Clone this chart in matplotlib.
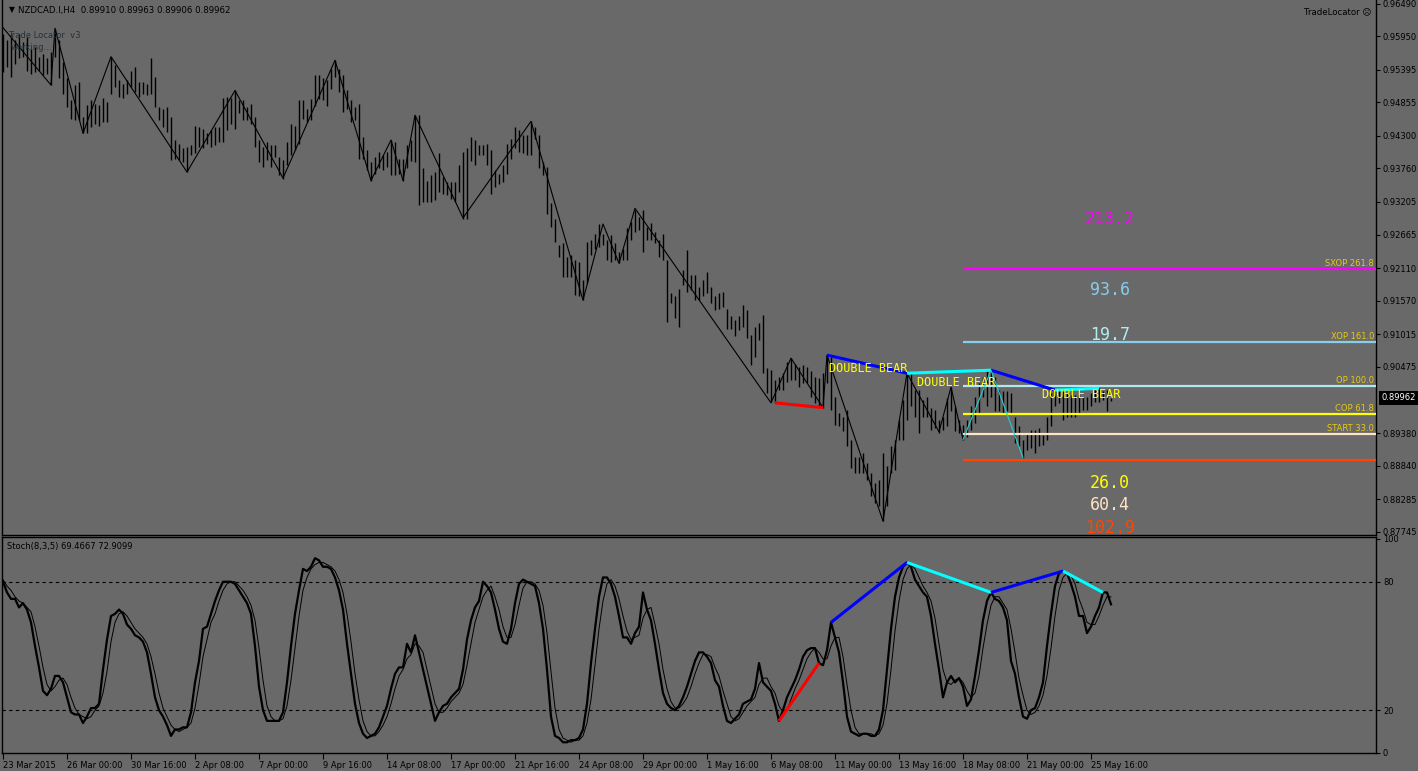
import matplotlib
matplotlib.use('Agg')
import matplotlib.pyplot as plt
from matplotlib.transforms import blended_transform_factory

# NZDCAD.I H4 bars (one value per bar)
highs = [
    0.9599, 0.9588, 0.9599, 0.9588, 0.9599, 0.9585, 0.9593, 0.9574, 0.9577, 0.9560,
    0.9566, 0.9558, 0.9569, 0.9607, 0.9588, 0.9552, 0.9525, 0.9489, 0.9514, 0.9519,
    0.9461, 0.9481, 0.9489, 0.9483, 0.9481, 0.9492, 0.9486, 0.9561, 0.9547, 0.9522,
    0.9516, 0.9522, 0.9538, 0.9544, 0.9519, 0.9519, 0.9516, 0.9558, 0.9527, 0.9478,
    0.9475, 0.9478, 0.9461, 0.9423, 0.9417, 0.9409, 0.9412, 0.9414, 0.9447, 0.9445,
    0.9442, 0.9434, 0.9439, 0.9445, 0.9445, 0.9492, 0.9494, 0.9492, 0.9505, 0.9489,
    0.9489, 0.9478, 0.9483, 0.9461, 0.9423, 0.9412, 0.9420, 0.9414, 0.9414, 0.9395,
    0.9390, 0.9420, 0.9450, 0.9447, 0.9489, 0.9489, 0.9475, 0.9491, 0.9530, 0.9530,
    0.9525, 0.9522, 0.9541, 0.9555, 0.9541, 0.9530, 0.9505, 0.9489, 0.9478, 0.9483,
    0.9428, 0.9406, 0.9387, 0.9395, 0.9403, 0.9398, 0.9403, 0.9423, 0.9420, 0.9392,
    0.9392, 0.9414, 0.9423, 0.9464, 0.9464, 0.9376, 0.9356, 0.9365, 0.9370, 0.9401,
    0.9362, 0.9354, 0.9354, 0.9354, 0.9381, 0.9403, 0.9409, 0.9428, 0.9423, 0.9414,
    0.9414, 0.9417, 0.9406, 0.9373, 0.9367, 0.9381, 0.9417, 0.9425, 0.9445, 0.9439,
    0.9431, 0.9431, 0.9454, 0.9445, 0.9431, 0.9387, 0.9378, 0.9318, 0.9293, 0.9249,
    0.9252, 0.9230, 0.9232, 0.9224, 0.9221, 0.9191, 0.9255, 0.9257, 0.9268, 0.9284,
    0.9268, 0.9257, 0.9266, 0.9252, 0.9238, 0.9243, 0.9277, 0.9288, 0.9307, 0.9296,
    0.9307, 0.9279, 0.9285, 0.9271, 0.9257, 0.9268, 0.9224, 0.9169, 0.9164, 0.9177,
    0.9208, 0.9241, 0.9200, 0.9200, 0.9180, 0.9191, 0.9205, 0.9180, 0.9164, 0.9169,
    0.9172, 0.9144, 0.9131, 0.9125, 0.9131, 0.9150, 0.9142, 0.9100, 0.9114, 0.9120,
    0.9133, 0.9045, 0.9042, 0.9026, 0.9031, 0.9037, 0.9056, 0.9062, 0.9053, 0.9048,
    0.9051, 0.9048, 0.9040, 0.9031, 0.9029, 0.9037, 0.9067, 0.9064, 0.8998, 0.8971,
    0.8965, 0.8976, 0.8927, 0.8899, 0.8899, 0.8905, 0.8888, 0.8872, 0.8855, 0.8861,
    0.8905, 0.8883, 0.8916, 0.8927, 0.8960, 0.8993, 0.9037, 0.9037, 0.9009, 0.9009,
    0.8993, 0.8998, 0.8979, 0.8976, 0.8960, 0.8965, 0.8996, 0.9014, 0.8982, 0.8960,
    0.8952, 0.8960, 0.8982, 0.8998, 0.9020, 0.9031, 0.9040, 0.9042, 0.9031, 0.9009,
    0.9007, 0.9007, 0.9004, 0.8965, 0.8949, 0.8927, 0.8938, 0.8943, 0.8943, 0.8946,
    0.8935, 0.8965, 0.9004, 0.9009, 0.9009, 0.9007, 0.9004, 0.9001, 0.9001, 0.9001,
    0.8998, 0.8998, 0.9004, 0.9009, 0.9012, 0.9007, 0.9009, 0.89963,
]
lows = [
    0.9536, 0.9544, 0.9527, 0.9549, 0.9558, 0.9560, 0.9538, 0.9533, 0.9536, 0.9538,
    0.9530, 0.9533, 0.9514, 0.9560, 0.9525, 0.9500, 0.9478, 0.9458, 0.9456, 0.9456,
    0.9434, 0.9434, 0.9445, 0.9450, 0.9447, 0.9453, 0.9453, 0.9500, 0.9511, 0.9494,
    0.9492, 0.9500, 0.9511, 0.9503, 0.9494, 0.9500, 0.9497, 0.9500, 0.9478, 0.9456,
    0.9445, 0.9436, 0.9390, 0.9392, 0.9390, 0.9387, 0.9370, 0.9398, 0.9401, 0.9412,
    0.9409, 0.9417, 0.9412, 0.9414, 0.9420, 0.9420, 0.9439, 0.9450, 0.9442, 0.9467,
    0.9456, 0.9456, 0.9450, 0.9412, 0.9387, 0.9379, 0.9390, 0.9379, 0.9395, 0.9365,
    0.9359, 0.9381, 0.9398, 0.9406, 0.9417, 0.9458, 0.9453, 0.9456, 0.9480, 0.9491,
    0.9489, 0.9480, 0.9508, 0.9527, 0.9503, 0.9469, 0.9475, 0.9453, 0.9456, 0.9392,
    0.9392, 0.9373, 0.9356, 0.9367, 0.9376, 0.9373, 0.9378, 0.9365, 0.9365, 0.9367,
    0.9356, 0.9376, 0.9389, 0.9387, 0.9315, 0.9321, 0.9321, 0.9321, 0.9323, 0.9337,
    0.9334, 0.9332, 0.9326, 0.9321, 0.9337, 0.9293, 0.9293, 0.9389, 0.9381, 0.9398,
    0.9398, 0.9381, 0.9334, 0.9345, 0.9351, 0.9354, 0.9367, 0.9392, 0.9409, 0.9403,
    0.9401, 0.9398, 0.9398, 0.9425, 0.9376, 0.9365, 0.9301, 0.9279, 0.9255, 0.9230,
    0.9197, 0.9197, 0.9197, 0.9166, 0.9164, 0.9158, 0.9186, 0.9232, 0.9243, 0.9246,
    0.9249, 0.9224, 0.9221, 0.9224, 0.9219, 0.9224, 0.9224, 0.9257, 0.9271, 0.9274,
    0.9238, 0.9257, 0.9257, 0.9252, 0.9230, 0.9224, 0.9122, 0.9153, 0.9128, 0.9114,
    0.9183, 0.9172, 0.9175, 0.9158, 0.9158, 0.9164, 0.9169, 0.9153, 0.9142, 0.9144,
    0.9147, 0.9111, 0.9111, 0.9098, 0.9109, 0.9114, 0.9095, 0.9051, 0.9064, 0.9092,
    0.9037, 0.9004, 0.8990, 0.8988, 0.9009, 0.9009, 0.9023, 0.9026, 0.9026, 0.9015,
    0.9020, 0.9020, 0.8998, 0.8987, 0.8982, 0.8980, 0.9020, 0.8976, 0.8952, 0.8949,
    0.8941, 0.8916, 0.8880, 0.8872, 0.8872, 0.8872, 0.8861, 0.8833, 0.8822, 0.8817,
    0.8792, 0.8817, 0.8872, 0.8877, 0.8927, 0.8927, 0.8960, 0.8982, 0.8965, 0.8938,
    0.8965, 0.8965, 0.8943, 0.8946, 0.8938, 0.8943, 0.8949, 0.8974, 0.8941, 0.8938,
    0.8927, 0.8932, 0.8943, 0.8954, 0.8971, 0.8998, 0.8982, 0.8998, 0.8974, 0.8974,
    0.8971, 0.8974, 0.8971, 0.8921, 0.8916, 0.8897, 0.8910, 0.8913, 0.8905, 0.8916,
    0.8918, 0.8927, 0.8949, 0.8982, 0.8987, 0.8960, 0.8965, 0.8965, 0.8965, 0.8971,
    0.8976, 0.8976, 0.8982, 0.8990, 0.8990, 0.8993, 0.8974, 0.89906,
]

# Stoch(8,3,5): main (thick) and signal (thin)
stoch_main = [
    80, 75, 72, 72, 68, 70, 67, 61, 50, 40, 29, 27, 30, 36, 36, 33, 26, 19, 18, 18,
    14, 17, 21, 21, 23, 39, 53, 64, 65, 67, 65, 60, 58, 55, 54, 52, 47, 37, 26, 20,
    17, 13, 8, 11, 11, 12, 12, 19, 33, 43, 58, 59, 65, 71, 76, 80, 80, 80, 79, 76,
    73, 70, 65, 50, 31, 20, 15, 15, 15, 15, 19, 33, 50, 65, 76, 86, 85, 87, 91, 90,
    87, 87, 86, 82, 76, 67, 51, 37, 23, 14, 9, 7, 8, 9, 12, 17, 22, 30, 37, 40,
    40, 51, 47, 55, 47, 39, 31, 23, 15, 19, 22, 23, 26, 28, 30, 39, 53, 62, 68, 71,
    80, 78, 75, 67, 58, 52, 51, 58, 70, 79, 81, 80, 79, 78, 70, 58, 39, 17, 8, 7,
    5, 5, 6, 6, 7, 11, 23, 42, 58, 73, 82, 82, 79, 73, 64, 54, 54, 51, 56, 59,
    75, 67, 62, 51, 39, 28, 23, 21, 20, 22, 26, 31, 37, 43, 47, 47, 45, 42, 34, 31,
    22, 15, 14, 16, 18, 23, 24, 25, 30, 42, 33, 31, 29, 23, 15, 20, 26, 30, 34, 39,
    45, 48, 49, 49, 42, 41, 48, 61, 54, 47, 33, 17, 10, 9, 8, 9, 9, 8, 8, 11,
    20, 39, 58, 73, 82, 87, 89, 87, 81, 78, 75, 73, 64, 51, 39, 26, 33, 36, 33, 35,
    31, 22, 25, 36, 48, 62, 71, 75, 72, 71, 68, 62, 43, 37, 26, 17, 16, 20, 21, 26,
    33, 50, 65, 78, 84, 85, 84, 79, 73, 64, 64, 56, 59, 64, 68, 75, 75, 69.4667,
]
stoch_signal = [
    81, 78, 76, 73, 71, 70, 68, 66, 59, 50, 40, 32, 29, 31, 34, 35, 32, 26, 21, 18,
    17, 16, 17, 20, 22, 28, 38, 52, 61, 65, 66, 64, 61, 58, 56, 54, 51, 45, 37, 28,
    21, 17, 13, 11, 10, 11, 12, 14, 21, 32, 45, 53, 61, 65, 71, 76, 79, 80, 80, 78,
    76, 73, 69, 62, 49, 34, 22, 17, 15, 15, 16, 22, 34, 49, 64, 76, 82, 86, 88, 89,
    89, 88, 87, 85, 81, 75, 65, 52, 37, 25, 15, 10, 8, 8, 10, 13, 17, 23, 30, 36,
    39, 44, 46, 51, 50, 47, 39, 31, 23, 19, 19, 21, 24, 26, 28, 32, 41, 51, 61, 67,
    73, 76, 78, 73, 67, 59, 54, 54, 60, 69, 77, 80, 80, 79, 76, 69, 56, 38, 21, 11,
    7, 6, 5, 6, 6, 8, 14, 25, 41, 58, 71, 79, 81, 78, 72, 64, 57, 53, 54, 55,
    63, 67, 68, 60, 51, 39, 30, 24, 21, 21, 23, 26, 31, 37, 42, 46, 46, 45, 40, 36,
    29, 23, 17, 15, 16, 19, 22, 24, 26, 32, 35, 35, 31, 28, 22, 19, 20, 25, 30, 34,
    39, 44, 47, 49, 47, 44, 44, 50, 54, 54, 45, 32, 20, 12, 9, 9, 9, 9, 8, 9,
    13, 23, 39, 57, 71, 81, 86, 88, 86, 82, 78, 75, 71, 63, 51, 39, 33, 32, 34, 35,
    33, 29, 26, 28, 36, 49, 60, 69, 73, 73, 70, 67, 58, 47, 35, 27, 20, 18, 19, 22,
    27, 36, 49, 64, 76, 82, 84, 83, 79, 72, 67, 61, 60, 60, 64, 69, 73, 72.9099,
]

# ZigZag pivots (bar index, price)
zz_idx = [0, 12, 13, 20, 27, 46, 58, 70, 83, 92, 97, 100, 103, 115, 132, 145, 150,
          154, 158, 192, 197, 205, 206, 220, 226, 234, 237, 240]
zz_price = [0.9609, 0.9514, 0.9608, 0.9434, 0.9561, 0.9370, 0.9505, 0.9360, 0.9555,
            0.9356, 0.9423, 0.9356, 0.9464, 0.9294, 0.9454, 0.9158, 0.9284, 0.9219,
            0.9310, 0.8988, 0.9062, 0.8980, 0.9067, 0.8792, 0.9037, 0.8940, 0.9014,
            0.8927]

# divergence pivots
bear_idx = [206, 226, 247, 263, 274]
bull_idx = [193, 205]
stoch_bear_idx = [207, 226, 247, 265, 275]
stoch_bull_idx = [194, 204]
harm_idx = [240, 247, 255]

# fib levels of Trade Locator
fib_start = 240
fib_prices = [0.92098, 0.90887, 0.90160, 0.89697, 0.89366, 0.88936]
fib_colors = ['#ff00ff', '#87ceeb', '#b0e8ec', '#ffff00', '#ffe4c4', '#ff4500']
fib_names = ['SXOP 261.8', 'XOP 161.0', 'OP 100.0', 'COP 61.8', 'START 33.0', '']
fib_values = ['213.2', '93.6', '19.7', '26.0', '60.4', '102.9']
fib_value_prices = [0.9292, 0.9175, 0.9100, 0.8856, 0.8819, 0.8781]
fib_value_colors = ['#ff00ff', '#87ceeb', '#b0eeee', '#ffff00', '#ffe4c4', '#ff4500']

pattern_labels = ['DOUBLE BEAR', 'DOUBLE BEAR', 'DOUBLE BEAR']
pattern_x = [206.5, 228.5, 259.7]
pattern_y = [0.9044, 0.9021, 0.9001]

price_ticks = [0.96490, 0.95950, 0.95395, 0.94855, 0.94300, 0.93760, 0.93205,
               0.92665, 0.92110, 0.91570, 0.91015, 0.90475, 0.89380, 0.88840,
               0.88285, 0.87745]
last_price = 0.89962

date_labels = ['23 Mar 2015', '26 Mar 00:00', '30 Mar 16:00', '2 Apr 08:00',
               '7 Apr 00:00', '9 Apr 16:00', '14 Apr 08:00', '17 Apr 00:00',
               '21 Apr 16:00', '24 Apr 08:00', '29 Apr 00:00', '1 May 16:00',
               '6 May 08:00', '11 May 00:00', '13 May 16:00', '18 May 08:00',
               '21 May 00:00', '25 May 16:00']
date_idx = [16 * k for k in range(len(date_labels))]

bg = '#696969'
W, H = 1418, 771
plt.rcParams['font.family'] = ['DejaVu Sans']

fig = plt.figure(figsize=(W / 100, H / 100), dpi=100, facecolor=bg)
ax = fig.add_axes([2 / W, 236 / H, 1374 / W, 535 / H], facecolor=bg)
ax2 = fig.add_axes([2 / W, 18 / H, 1374 / W, 216 / H], facecolor=bg)

x = list(range(len(highs)))
xmin, xmax = -0.25, 343.25

# ---- price panel
ax.vlines(x, lows, highs, color='black', lw=1.0)
ax.plot(zz_idx, zz_price, color='black', lw=0.8)

ax.hlines(fib_prices, fib_start, xmax, colors=fib_colors, lw=1.6, zorder=3)
tr = blended_transform_factory(ax.transAxes, ax.transData)
for name, p in zip(fib_names, fib_prices):
    if name:
        ax.text(0.9985, p + 0.0002, name, transform=tr, ha='right', va='bottom',
                fontsize=6, color='#e6c81c', zorder=4)
for v, p, c in zip(fib_values, fib_value_prices, fib_value_colors):
    ax.text(276.8, p, v, ha='center', va='center', fontsize=12,
            family='DejaVu Sans Mono', color=c, clip_on=True, zorder=2)

ax.plot(bull_idx, [lows[i] for i in bull_idx], color='#ff0000', lw=2.2,
        solid_capstyle='butt')
bear_colors = ['#0000ff', '#00ffff', '#0000ff', '#00ffff']
for k in range(len(bear_idx) - 1):
    a, b = bear_idx[k], bear_idx[k + 1]
    ax.plot([a, b], [highs[a], highs[b]], color=bear_colors[k], lw=2.2,
            solid_capstyle='butt', zorder=4)
ax.plot(harm_idx, [lows[harm_idx[0]], highs[harm_idx[1]], lows[harm_idx[2]]],
        color='#1fd0d0', lw=0.8, zorder=4)

for t, px, py in zip(pattern_labels, pattern_x, pattern_y):
    ax.text(px, py, t, ha='left', va='center', fontsize=8.5,
            family='DejaVu Sans Mono', color='#ffff00', zorder=5)

ax.set_xlim(xmin, xmax)
ax.set_ylim(0.87692, 0.96548)
ax.yaxis.tick_right()
ax.set_yticks(price_ticks)
ax.set_yticklabels(['%.5f' % p for p in price_ticks])
ax.tick_params(axis='y', direction='out', length=3, width=0.8, pad=2,
               labelsize=6, colors='black')
ax.tick_params(axis='x', bottom=False, labelbottom=False)
ax.spines['top'].set_visible(False)
for s in ['left', 'right', 'bottom']:
    ax.spines[s].set_color('black')
    ax.spines[s].set_linewidth(1)

ax.text(1.004, last_price, '%.5f' % last_price, transform=tr, ha='left',
        va='center', fontsize=6, color='white',
        bbox=dict(facecolor='black', edgecolor='none', pad=1.8))

# ---- stochastic panel
ax2.axhline(80, color='black', lw=0.8, ls=(0, (3, 3)))
ax2.axhline(20, color='black', lw=0.8, ls=(0, (3, 3)))
ax2.plot(x, stoch_signal, color='black', lw=0.7)
ax2.plot(x, stoch_main, color='black', lw=1.6)
ax2.plot(stoch_bull_idx, [stoch_main[i] for i in stoch_bull_idx],
         color='#ff0000', lw=2.2, solid_capstyle='butt')
for k in range(len(stoch_bear_idx) - 1):
    a, b = stoch_bear_idx[k], stoch_bear_idx[k + 1]
    ax2.plot([a, b], [stoch_main[a], stoch_main[b]], color=bear_colors[k],
             lw=2.2, solid_capstyle='butt')

ax2.set_xlim(xmin, xmax)
ax2.set_ylim(0.1, 100.9)
ax2.yaxis.tick_right()
ax2.set_yticks([0, 20, 80, 100])
ax2.set_yticklabels(['0', '20', '80', '100'])
ax2.tick_params(axis='y', direction='out', length=3, width=0.8, pad=2,
                labelsize=6, colors='black')
ax2.set_xticks(date_idx)
ax2.set_xticklabels(date_labels, ha='left')
ax2.tick_params(axis='x', direction='out', length=4, width=0.8, pad=1.5,
                labelsize=6, colors='black')
for s in ax2.spines.values():
    s.set_color('black')
    s.set_linewidth(1)

# ---- captions
fig.text(9 / W, 1 - 10 / H, '\u25bc', fontsize=5.5, color='black', va='center')
fig.text(18 / W, 1 - 10 / H, 'NZDCAD.I,H4  0.89910 0.89963 0.89906 0.89962',
         fontsize=6.2, color='black', va='center')
fig.text(8 / W, 1 - 36 / H, 'Trade Locator  v3', fontsize=6, color='#1f323d',
         va='center')
fig.text(11 / W, 1 - 48 / H, 'working...', fontsize=6, color='#1f323d',
         va='center')
fig.text(1371 / W, 1 - 12 / H, 'TradeLocator \u2639', fontsize=6.2,
         color='black', va='center', ha='right')
fig.text(7 / W, 1 - 546 / H, 'Stoch(8,3,5) 69.4667 72.9099', fontsize=6,
         color='black', va='center')

fig.savefig('out.png', dpi=100, facecolor=bg)
